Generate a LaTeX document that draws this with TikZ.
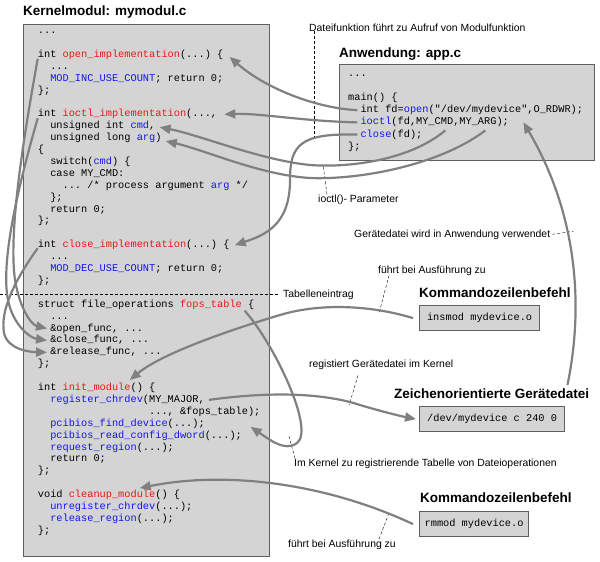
\documentclass[tikz,border=0pt]{standalone}
\usepackage{fontspec}
\setmainfont{Liberation Sans}
\setmonofont{Liberation Mono}
\usetikzlibrary{arrows.meta}
\definecolor{pfeilgrau}{RGB}{128,128,128}
\definecolor{kastengrau}{RGB}{212,212,212}
\definecolor{rahmengrau}{RGB}{96,96,96}
\definecolor{fktrot}{RGB}{240,20,20}
\definecolor{makroblau}{RGB}{20,20,240}
\newcommand{\fkt}[1]{\textcolor{fktrot}{#1}}
\newcommand{\mak}[1]{\textcolor{makroblau}{#1}}

\begin{document}
\begin{tikzpicture}[x=1pt, y=-1pt,
	code/.style={font=\fontsize{10.3}{12}\selectfont\ttfamily, inner sep=0pt, anchor=west, text height=7pt, text depth=2pt},
	kasten/.style={draw=rahmengrau, fill=kastengrau, line width=1.2pt, inner sep=0pt, anchor=north west},
	befehl/.style={kasten, font=\fontsize{10.3}{12}\selectfont\ttfamily, text height=7pt, text depth=2pt, minimum height=25pt},
	titel/.style={font=\fontsize{13.5}{16}\selectfont\bfseries, inner sep=0pt, anchor=base west},
	notiz/.style={font=\fontsize{10.4}{12}\selectfont, inner sep=0pt, anchor=base west},
	pfeil/.style={pfeilgrau, line width=2.2pt, -{Triangle[length=11pt, width=9pt]}},
	hinweis/.style={black, thin, densely dashed}]

	\useasboundingbox (0,0) rectangle (600,562);

	% Kernelmodul
	\node[titel] (ktitel) at (23,16) {Kernelmodul: mymodul.c};
	\node[kasten, minimum width=246pt, minimum height=532pt] (kmod) at (23,24) {};
	\foreach \i/\e/\n/\txt in {
		0/0/k0/{...},
		2/0/k2/{int \fkt{open\_implementation}(...) \{},
		3/2/k3/{...},
		4/2/k4/{\mak{MOD\_INC\_USE\_COUNT}; return 0;},
		5/0/k5/{\};},
		7/0/k7/{int \fkt{ioctl\_implementation}(...,},
		8/2/k8/{unsigned int \mak{cmd},},
		9/2/k9/{unsigned long \mak{arg})},
		10/0/k10/{\{},
		11/2/k11/{switch(\mak{cmd}) \{},
		12/2/k12/{case MY\_CMD:},
		13/4/k13/{... /* process argument \mak{arg} */},
		14/2/k14/{\};},
		15/2/k15/{return 0;},
		16/0/k16/{\};},
		18/0/k18/{int \fkt{close\_implementation}(...) \{},
		19/2/k19/{...},
		20/2/k20/{\mak{MOD\_DEC\_USE\_COUNT}; return 0;},
		21/0/k21/{\};},
		23/0/k23/{struct file\_operations \fkt{fops\_table} \{},
		24/2/k24/{...},
		25/2/k25/{\&open\_func, ...},
		26/2/k26/{\&close\_func, ...},
		27/2/k27/{\&release\_func, ...},
		28/0/k28/{\};},
		30/0/k30/{int \fkt{init\_module}() \{},
		31/2/k31/{\mak{register\_chrdev}(MY\_MAJOR,},
		32/18/k32/{..., \&fops\_table);},
		33/2/k33/{\mak{pcibios\_find\_device}(...);},
		34/2/k34/{\mak{pcibios\_read\_config\_dword}(...);},
		35/2/k35/{\mak{request\_region}(...);},
		36/2/k36/{return 0;},
		37/0/k37/{\};},
		39/0/k39/{void \fkt{cleanup\_module}() \{},
		40/2/k40/{\mak{unregister\_chrdev}(...);},
		41/2/k41/{\mak{release\_region}(...);},
		42/0/k42/{\};}}
		\node[code] (\n) at (37.7+6.18*\e, 31+11.9*\i) {\txt};

	% Anwendung
	\node[titel] (atitel) at (339,57) {Anwendung: app.c};
	\node[kasten, minimum width=255pt, minimum height=96pt] (app) at (339,64) {};
	\foreach \i/\e/\n/\txt in {
		0/0/a0/{...},
		2/0/a2/{main() \{},
		3/2/a3/{int fd=\mak{open}("/dev/mydevice",O\_RDWR);},
		4/2/a4/{\mak{ioctl}(fd,MY\_CMD,MY\_ARG);},
		5/2/a5/{\mak{close}(fd);},
		6/0/a6/{\};}}
		\node[code] (\n) at (348+6.18*\e, 73.6+12.2*\i) {\txt};

	% Befehle und Geraetedatei
	\node[titel] (kmd1) at (419,297) {Kommandozeilenbefehl};
	\node[befehl, minimum width=120pt] (insmod) at (419,305) {insmod mydevice.o};
	\node[titel] (devtitel) at (394,398) {Zeichenorientierte Gerätedatei};
	\node[befehl, minimum width=145pt] (dev) at (419,406) {/dev/mydevice c 240 0};
	\node[titel] (kmd2) at (420,502) {Kommandozeilenbefehl};
	\node[befehl, minimum width=109pt] (rmmod) at (419,511) {rmmod mydevice.o};

	% Hinweise
	\node[notiz] (datei) at (309,31) {Dateifunktion führt zu Aufruf von Modulfunktion};
	\node[notiz] (param) at (318,202) {ioctl()- Parameter};
	\node[notiz] (geraet) at (354,237) {Gerätedatei wird in Anwendung verwendet};
	\node[notiz] (fuehrt1) at (378,273) {führt bei Ausführung zu};
	\node[notiz] (tab) at (283,297) {Tabelleneintrag};
	\node[notiz] (reg) at (309,367) {registiert Gerätedatei im Kernel};
	\node[notiz] (imk) at (294,466) {Im Kernel zu registrierende Tabelle von Dateioperationen};
	\node[notiz] (fuehrt2) at (288,547) {führt bei Ausführung zu};

	\draw[hinweis] ([xshift=5pt]datei.south west) -- ++(0,110);
	\draw[hinweis] ([xshift=9pt]param.north west) -- ++(-4,-30);
	\draw[hinweis] ([xshift=2pt]geraet.east) -- ++(21,-3);
	\draw[hinweis] ([xshift=11pt]fuehrt1.south west) -- ++(-10,38);
	\draw[hinweis] ([xshift=-5pt]tab.west) -- ++(-278,0);
	\draw[hinweis] ([shift={(49,6)}]reg.south west) -- ++(-9,30);
	\draw[hinweis] ([xshift=1pt]imk.north west) -- ++(-6,-22);
	\draw[hinweis] ([xshift=-17pt]fuehrt2.north east) -- ++(10,-26);

	% Aufrufe aus app.c
	\draw[pfeil] ([xshift=-3pt]a3.west) .. controls (315,108) and (265,88) .. ([shift={(6,2)}]k2.east);
	\draw[pfeil] ([xshift=-3pt]a4.west) .. controls (300,121) and (260,113) .. ([xshift=7pt]k7.east);
	\draw[pfeil] ([xshift=-3pt]a5.west) .. controls (300,133) and (290,145) .. (290,180) .. controls (290,225) and (265,235) .. ([xshift=5pt]k18.east);
	\draw[pfeil] ([shift={(85,8)}]a4.west) .. controls (410,160) and (350,168) .. (310,165) .. controls (260,160) and (200,135) .. ([shift={(4,1)}]k8.east);
	\draw[pfeil] ([shift={(125,8)}]a4.west) .. controls (440,165) and (360,180) .. (310,178) .. controls (260,175) and (205,150) .. ([shift={(4,3)}]k9.east);

	% Tabelleneintraege
	\draw[pfeil] ([shift={(0,4)}]k2.west) .. controls (25,130) and (8,230) .. (15,280) .. controls (20,310) and (32,325) .. ([xshift=-3pt]k25.west);
	\draw[pfeil] ([shift={(0,4)}]k7.west) .. controls (20,180) and (0,260) .. (8,300) .. controls (13,325) and (30,338) .. ([xshift=-3pt]k26.west);
	\draw[pfeil] ([shift={(0,3)}]k18.west) .. controls (15,280) and (0,310) .. (4,333) .. controls (8,350) and (30,352) .. ([xshift=-3pt]k27.west);

	% Kernel
	\draw[pfeil] ([shift={(207,6)}]k23.west) .. controls (275,345) and (315,430) .. (297,443) .. controls (285,452) and (270,440) .. ([shift={(-10,15)}]k32.east);
	\draw[pfeil] ([xshift=4pt]k31.east) .. controls (280,390) and (330,395) .. (360,405) .. controls (380,411) and (400,416) .. ([xshift=-3pt]dev.west);
	\draw[pfeil] ([xshift=-6pt]insmod.west) .. controls (370,305) and (320,303) .. (280,315) .. controls (220,333) and (160,355) .. ([shift={(92,-8)}]k30.west);
	\draw[pfeil] ([xshift=-6pt]rmmod.west) .. controls (330,485) and (230,470) .. ([shift={(102,-7)}]k39.west);
	\draw[pfeil] ([shift={(-22,-3)}]devtitel.north east) .. controls (585,300) and (575,210) .. ([shift={(163,12)}]a3.west);

\end{tikzpicture}
\end{document}
